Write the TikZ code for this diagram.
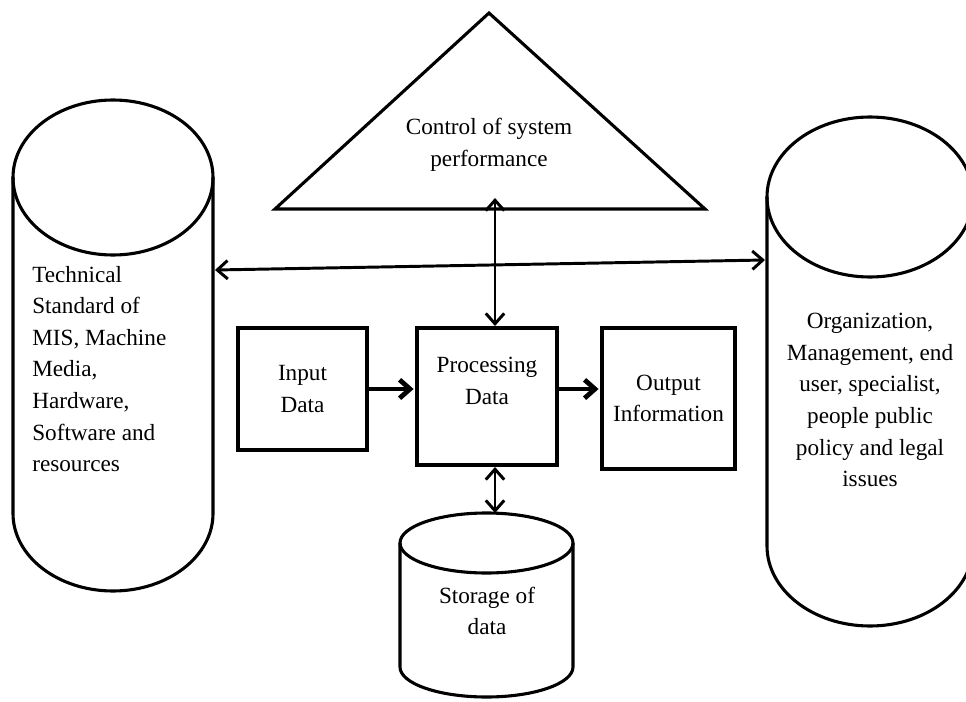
\documentclass[tikz,border=0pt]{standalone}
\usepackage{fontspec}
\setmainfont{Liberation Serif}
\usetikzlibrary{arrows.meta,positioning}

\begin{document}
\begin{tikzpicture}[
	x = 0.025cm, y = -0.025cm, % one unit = one pixel, y downwards
	> = {Straight Barb[length=2.6mm,width=4.6mm]}, % arrow head style
	every node/.style={font=\fontsize{16.5}{22.5}\selectfont},
	cyl/.style={line width=2.2pt},                                 % cylinders and triangle
	box/.style={draw=black, line width=2.8pt, align=center, inner sep=2pt},
	txt/.style={align=center, inner sep=0pt},
	link/.style={line width=2.1pt, <->},                           % double arrows
	flow/.style={line width=3.4pt, ->, shorten > = 1pt},           % data flow
	]

	\clip (0,0) rectangle (966,702);

	% Shapes drawn by hand
	\draw[cyl, line join=miter] (275,209) -- (489,13) -- (705,209) -- cycle;
	\draw[cyl] (13,177.5) -- (13,513.5) arc[start angle=180, end angle=0, x radius=100, y radius=77.5] -- (213,177.5);
	\draw[cyl] (113,177.5) ellipse [x radius=100, y radius=77.5];
	\draw[cyl] (767,197) -- (767,546) arc[start angle=180, end angle=0, x radius=103, y radius=80] -- (973,197);
	\draw[cyl] (870,197) ellipse [x radius=103, y radius=80];
	\draw[cyl] (400,543) -- (400,667) arc[start angle=180, end angle=0, x radius=86.5, y radius=30] -- (573,543);
	\draw[cyl] (486.5,543) ellipse [x radius=86.5, y radius=30];

	% Nodes and their relative positions
	\node[box, minimum width=3.225cm, minimum height=3.05cm] (inp) at (302.5,389) {Input\\Data};
	\node[box, minimum width=3.5cm, minimum height=3.425cm, text depth=22pt] (proc) [right = 1.15cm of inp.north east, anchor=north west] {Processing\\Data};
	\node[box, minimum width=3.325cm, minimum height=3.525cm] (out) [right = 1.025cm of proc.north east, anchor=north west] {Output\\Information};

	\node[txt] (ctrl) at (489,145) {Control of system\\performance};
	\node[txt, align=left, anchor=west] (tech) at (32,369) {Technical\\Standard of\\MIS, Machine\\Media,\\Hardware,\\Software and\\resources};
	\node[txt] (org) at (870,400) {Organization,\\Management, end\\user, specialist,\\people public\\policy and legal\\issues};
	\node[txt] (store) at (487,611) {Storage of\\data};

	% Ends of the connectors on the drawn shapes
	\coordinate (techR) at (215,270);
	\coordinate (orgL) at (765,260);
	\coordinate (ctrlB) at (495,198);
	\coordinate (storeT) at (495,513);

	% Paths connecting nodes
	\draw[link] (techR) -- (orgL);
	\draw[link] (ctrlB) -- (ctrlB |- proc.north);
	\draw[link] (proc.south -| storeT) -- (storeT);
	\draw[flow] (inp.east) -- (inp.east -| proc.west);
	\draw[flow] (proc.east |- inp.east) -- (out.west |- inp.east);

\end{tikzpicture}
\end{document}
